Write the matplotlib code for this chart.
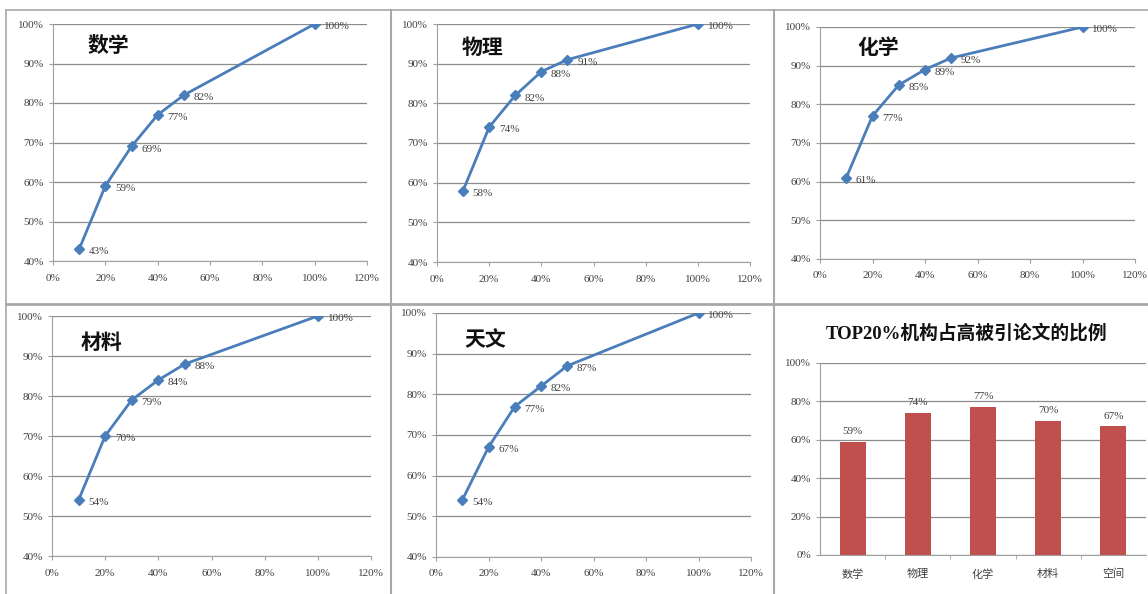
import matplotlib.pyplot as plt
from matplotlib.lines import Line2D
from matplotlib.ticker import FuncFormatter

plt.rcParams['font.family'] = ['Liberation Serif', 'Noto Sans CJK SC']

x_share = [0.1, 0.2, 0.3, 0.4, 0.5, 1.0]
math_y = [0.43, 0.59, 0.69, 0.77, 0.82, 1.00]
phys_y = [0.58, 0.74, 0.82, 0.88, 0.91, 1.00]
chem_y = [0.61, 0.77, 0.85, 0.89, 0.92, 1.00]
mat_y = [0.54, 0.70, 0.79, 0.84, 0.88, 1.00]
astro_y = [0.54, 0.67, 0.77, 0.82, 0.87, 1.00]
line_titles = ['数学', '物理', '化学', '材料', '天文']

bar_cats = ['数学', '物理', '化学', '材料', '空间']
bar_vals = [0.59, 0.74, 0.77, 0.70, 0.67]
bar_title = 'TOP20%机构占高被引论文的比例'

W, H = 1148, 594
fig = plt.figure(figsize=(W / 100, H / 100), dpi=100)


def px_axes(x0, y0, x1, y1):
    return fig.add_axes([x0 / W, 1 - y1 / H, (x1 - x0) / W, (y1 - y0) / H])


pct = FuncFormatter(lambda v, _: f'{v * 100:.0f}%')
blue = '#4a7ebb'
grid_c = '#8c8c8c'
txt_c = '#404040'


def style_axes(ax):
    for s in ['top', 'right']:
        ax.spines[s].set_visible(False)
    for s in ['left', 'bottom']:
        ax.spines[s].set_color('#a0a0a0')
        ax.spines[s].set_linewidth(0.8)
    ax.yaxis.grid(True, color=grid_c, linewidth=0.9)
    ax.set_axisbelow(True)
    ax.tick_params(labelsize=8, colors='#a0a0a0', labelcolor=txt_c, length=3, width=0.8)
    ax.yaxis.set_major_formatter(pct)


line_boxes = [
    (53, 24, 367, 261, 0.11, 0.91),
    (437, 24, 750, 262, 0.08, 0.90),
    (820, 27, 1135, 259, 0.12, 0.91),
    (52, 316, 371, 556, 0.09, 0.89),
    (436, 313, 751, 557, 0.09, 0.89),
]
series = [math_y, phys_y, chem_y, mat_y, astro_y]

for (x0, y0, x1, y1, tx, ty), ys, title in zip(line_boxes, series, line_titles):
    ax = px_axes(x0, y0, x1, y1)
    ax.plot(x_share, ys, color=blue, linewidth=2, marker='D', markersize=5)
    for xv, yv in zip(x_share, ys):
        ax.annotate(f'{yv * 100:.0f}%', (xv, yv), xytext=(7, -2), textcoords='offset points',
                    fontsize=8, color=txt_c, ha='left', va='center')
    ax.set_xlim(0, 1.2)
    ax.set_ylim(0.4, 1.0)
    ax.set_xticks([0, 0.2, 0.4, 0.6, 0.8, 1.0, 1.2])
    ax.set_yticks([0.4, 0.5, 0.6, 0.7, 0.8, 0.9, 1.0])
    ax.xaxis.set_major_formatter(pct)
    style_axes(ax)
    ax.tick_params(axis='x', pad=6)
    ax.text(tx, ty, title, transform=ax.transAxes, fontsize=15, fontweight='bold',
            family='Noto Sans CJK SC', ha='left', va='center', color='#111111')

# bar panel
bx = px_axes(820, 363, 1146, 555)
pos = list(range(len(bar_cats)))
bx.bar(pos, bar_vals, width=0.4, color='#c0504d')
for p, v in zip(pos, bar_vals):
    bx.text(p, v + 0.03, f'{v * 100:.0f}%', ha='center', va='bottom', fontsize=8, color=txt_c)
bx.set_xlim(-0.5, len(bar_cats) - 0.5)
bx.set_ylim(0, 1.0)
bx.set_yticks([0, 0.2, 0.4, 0.6, 0.8, 1.0])
bx.set_xticks(pos)
bx.set_xticklabels(bar_cats, family='Noto Sans CJK SC')
bx.set_xticks([p + 0.5 for p in pos[:-1]], minor=True)
style_axes(bx)
bx.tick_params(axis='x', which='major', length=0, pad=10)
bx.tick_params(axis='x', which='minor', length=3, color='#a0a0a0')
fig.text(967 / W, 1 - 333 / H, bar_title, ha='center', va='center', fontsize=13.5,
         fontweight='bold', color='#111111')

# panel frame lines
frame_c = '#a8a8a8'
for xs, ys, lw in [
    ([6, 6], [10, 594], 1.2),
    ([6, 1148], [10, 10], 1.2),
    ([391, 391], [10, 594], 1.5),
    ([774, 774], [10, 594], 1.5),
    ([6, 1148], [304, 304], 2.0),
]:
    fig.add_artist(Line2D([x / W for x in xs], [1 - y / H for y in ys], color=frame_c, linewidth=lw))

fig.savefig('out.png', dpi=100)
